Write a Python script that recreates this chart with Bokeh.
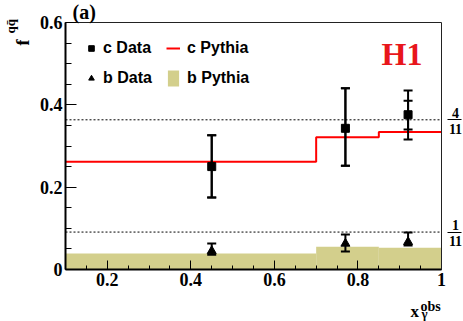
import numpy as np
from bokeh.plotting import figure
from bokeh.models import (ColumnDataSource, Range1d, FixedTicker, CustomJSTickFormatter, LinearAxis,
                          Whisker, TeeHead, Label, Legend, LegendItem)
from bokeh.embed import file_html
from bokeh.resources import INLINE

# ---------------- data ----------------
x_data = [0.45, 0.77, 0.92]
c_val = [0.250, 0.343, 0.376]
c_tot_lo = [0.175, 0.252, 0.316]
c_tot_hi = [0.326, 0.440, 0.435]
c_stat_lo = [0.175, 0.252, 0.340]
c_stat_hi = [0.326, 0.440, 0.410]

b_val = [0.045, 0.063, 0.067]
b_lo = [0.036, 0.044, 0.058]
b_hi = [0.063, 0.085, 0.090]

bin_lo = [0.10, 0.70, 0.85]
bin_hi = [0.70, 0.85, 1.00]
c_pythia = [0.262, 0.321, 0.334]
b_pythia = [0.039, 0.055, 0.053]

ref_levels = [4 / 11, 1 / 11]
ref_num = ["4", "1"]
ref_den = ["11", "11"]

x_lim = (0.1, 1.0)
y_lim = (0.0, 0.6)
x_ticks = [0.2, 0.4, 0.6, 0.8, 1.0]
y_ticks = [0.0, 0.2, 0.4, 0.6]

SERIF = "Liberation Serif"
SANS = "Liberation Sans"

# ---------------- layout (pixels) ----------------
W, H = 463, 321
FL, FR, FT, FB = 65, 441, 22, 269        # plot box edges on the canvas
ppx = (FR - FL) / (x_lim[1] - x_lim[0])
ppy = (FB - FT) / (y_lim[1] - y_lim[0])
xr = Range1d(x_lim[0] - FL / ppx, x_lim[1] + (W - FR) / ppx)
yr = Range1d(y_lim[0] - (H - FB) / ppy, y_lim[1] + FT / ppy)

p = figure(width=W, height=H, output_backend="svg", toolbar_location=None,
           x_range=xr, y_range=yr, min_border=0,
           min_border_left=0, min_border_right=0, min_border_top=0, min_border_bottom=0)
p.title.visible = False
p.grid.visible = False
p.outline_line_color = None
p.background_fill_color = "white"
p.border_fill_color = "white"

fmt = CustomJSTickFormatter(code="return Number(tick.toFixed(2)).toString();")
blank = CustomJSTickFormatter(code="return '';")

xa = p.xaxis[0]
ya = p.yaxis[0]
xa.fixed_location = y_lim[0]
xa.bounds = x_lim
ya.fixed_location = x_lim[0]
ya.bounds = y_lim
xa.ticker = FixedTicker(ticks=x_ticks, minor_ticks=list(np.round(np.arange(0.1, 1.0001, 0.05), 3)))
ya.ticker = FixedTicker(ticks=y_ticks, minor_ticks=list(np.round(np.arange(0.0, 0.6001, 0.05), 3)))
for ax in (xa, ya):
    ax.formatter = fmt
    ax.axis_line_width = 2
    ax.axis_line_color = "black"
    ax.major_tick_out = 0
    ax.minor_tick_out = 0
    ax.major_tick_line_color = "black"
    ax.minor_tick_line_color = "black"
    ax.major_label_text_font = SERIF
    ax.major_label_text_font_style = "bold"
    ax.major_label_text_font_size = "18px"
    ax.major_label_text_color = "black"
    ax.major_label_standoff = 3
xa.major_tick_in = 9
xa.minor_tick_in = 4
ya.major_tick_in = 11
ya.minor_tick_in = 6

# top frame line
top_ax = LinearAxis(fixed_location=y_lim[1], bounds=x_lim, ticker=FixedTicker(ticks=[]),
                    formatter=blank, axis_line_color="#222222", axis_line_width=1,
                    major_tick_line_color=None, minor_tick_line_color=None)
p.add_layout(top_ax, "above")
# right frame line; its ticks are the fraction bars of 4/11 and 1/11
right_ax = LinearAxis(fixed_location=x_lim[1], bounds=y_lim,
                      ticker=FixedTicker(ticks=ref_levels, minor_ticks=[]),
                      formatter=blank, axis_line_color="#222222", axis_line_width=1,
                      major_tick_in=-6, major_tick_out=20, major_tick_line_color="black",
                      major_tick_line_width=1.2, minor_tick_line_color=None)
p.add_layout(right_ax, "right")

# b Pythia band
band_src = ColumnDataSource(dict(left=bin_lo, right=bin_hi, top=b_pythia, bottom=[0] * len(b_pythia)))
r_band = p.quad(left="left", right="right", top="top", bottom="bottom", source=band_src,
                fill_color="#d3cf8c", line_color=None)

# c Pythia step line
step_x = bin_lo + [bin_hi[-1]]
step_y = c_pythia + [c_pythia[-1]]
r_line = p.step(step_x, step_y, mode="after", line_color="#ff0000", line_width=2)

# reference lines 4/11 and 1/11
p.segment(x0=[x_lim[0]] * 2, x1=[x_lim[1]] * 2, y0=ref_levels, y1=ref_levels,
          line_color="black", line_width=1, line_dash="2 2")
for lvl, num, den in zip(ref_levels, ref_num, ref_den):
    p.add_layout(Label(x=x_lim[1], y=lvl, x_offset=14, y_offset=7, text=num, text_align="center",
                       text_baseline="middle", text_font=SERIF, text_font_style="bold",
                       text_font_size="14px", text_color="black"))
    p.add_layout(Label(x=x_lim[1], y=lvl, x_offset=14, y_offset=-9, text=den, text_align="center",
                       text_baseline="middle", text_font=SERIF, text_font_style="bold",
                       text_font_size="14px", text_color="black"))

# error bars
c_src = ColumnDataSource(dict(x=x_data, y=c_val, tlo=c_tot_lo, thi=c_tot_hi, slo=c_stat_lo, shi=c_stat_hi))
b_src = ColumnDataSource(dict(x=x_data, y=b_val, lo=b_lo, hi=b_hi))
for lo, hi, src in (("tlo", "thi", c_src), ("slo", "shi", c_src), ("lo", "hi", b_src)):
    p.add_layout(Whisker(source=src, base="x", lower=lo, upper=hi, dimension="height",
                         line_color="black", line_width=2, level="annotation",
                         upper_head=TeeHead(size=9, line_width=2, line_color="black"),
                         lower_head=TeeHead(size=9, line_width=2, line_color="black")))

r_c = p.scatter("x", "y", source=c_src, marker="square", size=8, fill_color="black", line_color="black")
r_b = p.scatter("x", "y", source=b_src, marker="triangle", size=9, fill_color="black", line_color="black")

# legends
def make_legend(items, loc, standoff):
    lg = Legend(items=items, location=loc, orientation="vertical",
                glyph_width=14, glyph_height=20, label_height=20, spacing=10,
                padding=0, margin=0, label_standoff=standoff,
                border_line_alpha=0, background_fill_alpha=0,
                label_text_font=SANS, label_text_font_style="bold",
                label_text_font_size="16px", label_text_color="black")
    p.add_layout(lg)

make_legend([LegendItem(label="c Data", renderers=[r_c]),
             LegendItem(label="b Data", renderers=[r_b])], (84, H - 88), 5)
make_legend([LegendItem(label="c Pythia", renderers=[r_line]),
             LegendItem(label="b Pythia", renderers=[r_band])], (166, H - 88), 7)

def screen_label(x, y, text, size, color="black", align="left", baseline="alphabetic",
                 angle=0.0, font=SERIF):
    p.add_layout(Label(x=x, y=H - y, x_units="screen", y_units="screen", text=text, angle=angle,
                       text_align=align, text_baseline=baseline, text_font=font,
                       text_font_style="bold", text_font_size=size, text_color=color))

screen_label(422, 53.5, "H1", "32px", color="#e8161b", align="right", baseline="middle")
screen_label(72, 11, "(a)", "20px", baseline="middle")
# y title f^{q qbar}
screen_label(22, 45, "f", "18px", angle=np.pi / 2)
screen_label(10, 33, "qq\u0304", "13px", angle=np.pi / 2)
# x title x_gamma^obs
screen_label(410, 311, "x", "17px")
screen_label(420, 306, "obs", "14px")
screen_label(421, 313, "\u03b3", "13px")

open("out.html", "w").write(file_html(p, INLINE))
